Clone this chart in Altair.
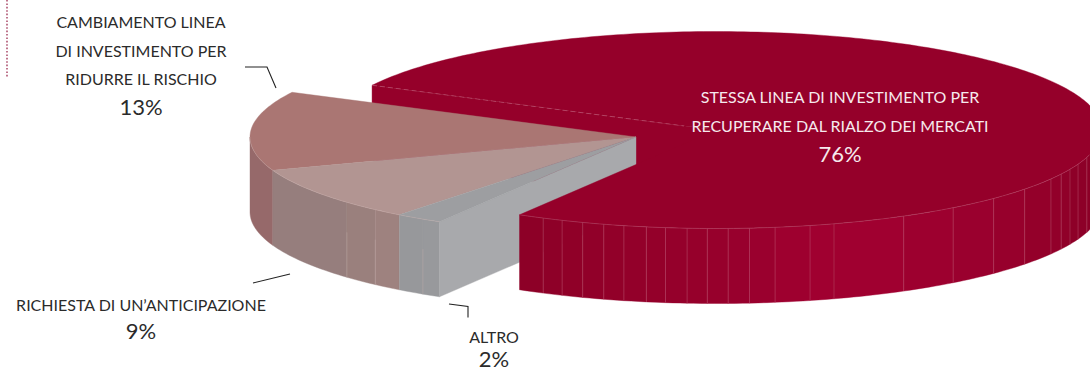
import math
import altair as alt

# Shares of each answer, in the order they run around the pie
SHARES = [13, 9, 2, 76]
NAMES = [
    ["CAMBIAMENTO LINEA", "DI INVESTIMENTO PER", "RIDURRE IL RISCHIO"],
    ["RICHIESTA DI UN’ANTICIPAZIONE"],
    ["ALTRO"],
    ["STESSA LINEA DI INVESTIMENTO PER", "RECUPERARE DAL RIALZO DEI MERCATI"],
]
TOP_COLORS = ["#aa7673", "#b29592", "#9d9ea1", "#95002a"]

# Drawing geometry of the tilted, extruded pie
START_DEG = 153.0
RX, RY, DEPTH = 386.0, 98.5, 75.0
SMALL_CENTER = (636.0, 137.0)
MAIN_CENTER = (716.0, 130.0)

# Facets of the side walls: parametric angle where each ends, and its shade
MAIN_FACET_ENDS = [243.4, 246.5, 249.8, 253.1, 256.2, 259.6, 262.5, 265.7, 268.7,
                   271.8, 275.0, 278.8, 284.1, 287.8, 299.1, 307.9, 316.0, 323.1,
                   330.2, 333.4, 336.5, 339.7, 343.9, 360.0]
MAIN_FACET_SHADES = ["#8d0027", "#8e0028", "#900028", "#910029", "#920029", "#93002a",
                     "#94002a", "#95002b", "#96002b", "#97002c", "#98002d", "#9a002e",
                     "#9e002f", "#a00030", "#a00030", "#9d002f", "#9a002e", "#97002c",
                     "#94002a", "#92002a", "#900029", "#8e0028", "#8d0028", "#8c0027"]
SIDE_FACETS = [
    (180.0, None, "#96696a"),
    (None, 221.5, "#967e7d"),
    (221.5, 227.5, "#9a807d"),
    (227.5, None, "#9e827f"),
    (None, 236.5, "#97989b"),
    (236.5, None, "#98999c"),
]

# Slice boundaries follow directly from the shares
bounds = [START_DEG]
for s in SHARES:
    bounds.append(bounds[-1] + s * 3.6)


def pt(center, deg, drop=0.0):
    a = math.radians(deg)
    return [center[0] + RX * math.cos(a), center[1] - RY * math.sin(a) + drop]


def arc(center, a, b, drop=0.0, step=1.0):
    n = max(2, int(abs(b - a) / step) + 1)
    return [pt(center, a + (b - a) * i / (n - 1), drop) for i in range(n)]


def poly(coords, fill, stroke=None):
    return {
        "type": "Feature",
        "geometry": {"type": "Polygon", "coordinates": [coords + [coords[0]]]},
        "properties": {"fill": fill, "stroke": stroke or fill},
    }


def line(coords, stroke):
    return {
        "type": "Feature",
        "geometry": {"type": "LineString", "coordinates": coords},
        "properties": {"stroke": stroke},
    }


def wall(center, a, b, fill):
    return poly(arc(center, a, b) + arc(center, b, a, DEPTH), fill)


faces = []

# Main slice: the cut face at the back sits behind the small slices
a0, a1 = bounds[3], bounds[4]
back = pt(MAIN_CENTER, a1)
faces.append(poly([back, list(MAIN_CENTER),
                   [MAIN_CENTER[0], MAIN_CENTER[1] + DEPTH],
                   [back[0], back[1] + DEPTH]], TOP_COLORS[3]))

# Small slices: walls, the exposed cut face, then the tops
side_starts = [SIDE_FACETS[0][0], bounds[1], SIDE_FACETS[1][1], SIDE_FACETS[2][1],
               bounds[2], SIDE_FACETS[4][1]]
side_ends = [bounds[1], SIDE_FACETS[1][1], SIDE_FACETS[2][1], bounds[2],
             SIDE_FACETS[4][1], bounds[3]]
for lo, hi, facet in zip(side_starts, side_ends, SIDE_FACETS):
    faces.append(wall(SMALL_CENTER, lo, hi, facet[2]))
corner = pt(SMALL_CENTER, bounds[3])
faces.append(poly([list(SMALL_CENTER), corner, [corner[0], corner[1] + DEPTH],
                   [SMALL_CENTER[0], SMALL_CENTER[1] + DEPTH]], "#a8a9ac"))
for i in range(3):
    faces.append(poly([list(SMALL_CENTER)] + arc(SMALL_CENTER, bounds[i], bounds[i + 1]),
                      TOP_COLORS[i]))

# Main slice: front wall facets and top, over the small slices' cut face
lo = a0
for hi, shade in zip(MAIN_FACET_ENDS, MAIN_FACET_SHADES):
    faces.append(wall(MAIN_CENTER, lo, hi, shade))
    lo = hi
faces.append(poly([list(MAIN_CENTER)] + arc(MAIN_CENTER, a0, a1), TOP_COLORS[3]))

# Pale seams between facets and along the rims
seams = []
for a in MAIN_FACET_ENDS[:-1]:
    p = pt(MAIN_CENTER, a)
    seams.append(line([p, [p[0], p[1] + DEPTH]], "#c4627f"))
for a in [SIDE_FACETS[1][1], SIDE_FACETS[2][1], SIDE_FACETS[4][1]]:
    p = pt(SMALL_CENTER, a)
    seams.append(line([[p[0], p[1] + 30], [p[0], p[1] + DEPTH]], "#c4b0ae"))
seams.append(line(arc(MAIN_CENTER, a0, 345.0), "#c4627f"))
seams.append(line(arc(SMALL_CENTER, 180.0, bounds[3]), "#c9aeab"))

IDENTITY = {"type": "identity", "scale": 1, "translate": [0, 0]}

faces_layer = (
    alt.Chart(alt.Data(values=faces))
    .mark_geoshape(strokeWidth=0.4)
    .encode(
        fill=alt.Fill("properties.fill:N", scale=None),
        stroke=alt.Stroke("properties.stroke:N", scale=None),
    )
    .project(**IDENTITY)
)

seams_layer = (
    alt.Chart(alt.Data(values=seams))
    .mark_geoshape(filled=False, strokeWidth=0.7, opacity=0.55)
    .encode(stroke=alt.Stroke("properties.stroke:N", scale=None))
    .project(**IDENTITY)
)

ghost = [line([pt(MAIN_CENTER, a1), [684.0, 126.0]], "#c86f8a")]
ghost_layer = (
    alt.Chart(alt.Data(values=ghost))
    .mark_geoshape(filled=False, strokeWidth=0.7, strokeDash=[5, 3], opacity=0.7)
    .encode(stroke=alt.Stroke("properties.stroke:N", scale=None))
    .project(**IDENTITY)
)

leaders = [
    line([[245, 67], [267, 67], [276, 88]], "#222222"),
    line([[253, 283], [290, 274]], "#222222"),
    line([[449, 304], [468, 306.5], [468, 317.5]], "#222222"),
]
leaders_layer = (
    alt.Chart(alt.Data(values=leaders))
    .mark_geoshape(filled=False, strokeWidth=1.1)
    .encode(stroke=alt.Stroke("properties.stroke:N", scale=None))
    .project(**IDENTITY)
)

# Vertical dotted rule at the page edge
edge_rule = (
    alt.Chart(alt.Data(values=[{"x": 7, "y": 0, "y2": 78}]))
    .mark_rule(color="#a33a5c", strokeWidth=1.4, strokeDash=[1.6, 1.8])
    .encode(
        x=alt.X("x:Q", scale=None),
        y=alt.Y("y:Q", scale=None),
        y2="y2:Q",
    )
)

# Label placement: centre x and the baseline of every line, percentage last
LABEL_SPOTS = [
    (141, [28, 57, 85, 115], "#2b2b2b"),
    (141, [310.5, 338.5], "#2b2b2b"),
    (494, [342.5, 366.5], "#2b2b2b"),
    (840, [103, 132, 162], "#f6e9ed"),
]
name_rows, pct_rows = [], []
for share, lines, (cx, bases, color) in zip(SHARES, NAMES, LABEL_SPOTS):
    for text, base in zip(lines, bases):
        name_rows.append({"t": text, "x": cx, "y": base, "c": color})
    pct_rows.append({"t": f"{share}%", "x": cx, "y": bases[-1], "c": color})


def text_layer(rows, size):
    return (
        alt.Chart(alt.Data(values=rows))
        .mark_text(font="Lato", fontSize=size, align="center", baseline="alphabetic")
        .encode(
            x=alt.X("x:Q", scale=None),
            y=alt.Y("y:Q", scale=None),
            text="t:N",
            color=alt.Color("c:N", scale=None),
        )
    )


chart = (
    alt.layer(
        faces_layer,
        seams_layer,
        ghost_layer,
        leaders_layer,
        edge_rule,
        text_layer(name_rows, 16),
        text_layer(pct_rows, 22),
    )
    .properties(width=1090, height=367, padding=0, background="white",
                autosize=alt.AutoSizeParams(type="none"))
    .configure_view(stroke=None)
)

chart.save("out.html", embed_options={"renderer": "svg", "actions": False})
